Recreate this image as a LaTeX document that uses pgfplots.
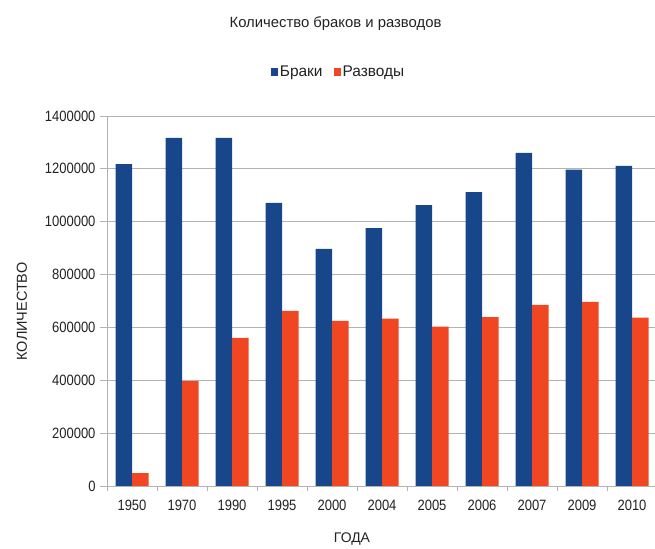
\documentclass[border=0pt]{standalone}
\usepackage{pgfplots}
\pgfplotsset{compat=1.18}
\usepackage{fontspec}
\setmainfont{Liberation Sans}
\newfontfamily\digitfont[FakeStretch=0.87]{Liberation Sans}
\definecolor{bblue}{HTML}{17478A}
\definecolor{bred}{HTML}{F04722}
\definecolor{gridgray}{HTML}{B3B3B3}
\definecolor{txt}{HTML}{222222}
\begin{document}
\begin{tikzpicture}[x=1bp,y=1bp]
\useasboundingbox (0,0) rectangle (655,549);
\begin{axis}[
  at={(107bp,63bp)}, anchor=south west,
  scale only axis, width=550bp, height=370bp,
  xmin=-0.5, xmax=10.5, ymin=0, ymax=1400000,
  ybar=0pt, bar width=16.5bp,
  axis lines*=left,
  axis line style={-, gridgray, line width=0.8bp},
  ymajorgrids, grid style={gridgray, line width=0.8bp},
  ytick={0,200000,400000,600000,800000,1000000,1200000,1400000},
  scaled y ticks=false,
  yticklabel style={/pgf/number format/fixed, /pgf/number format/1000 sep={}, text=txt, xshift=-1bp},
  /pgf/number format/assume math mode=true,
  tick label style={font=\digitfont\fontsize{15}{17}\selectfont},
  xtick={0,...,10},
  xticklabels={1950,1970,1990,1995,2000,2004,2005,2006,2007,2009,2010},
  xticklabel style={text=txt, yshift=-4bp},
  major x tick style={draw=none},
  minor xtick={-0.5,0.5,1.5,2.5,3.5,4.5,5.5,6.5,7.5,8.5,9.5,10.5},
  tick align=outside, major tick length=7bp, minor tick length=5bp,
  tick style={gridgray, line width=0.8bp},
  legend style={at={(0.421,1.119)}, anchor=center, draw=none, fill=none,
    font=\fontsize{15.5}{18}\selectfont, text=txt,
    legend columns=2, /tikz/every even column/.append style={column sep=9bp},
    inner sep=0pt},
  legend image code/.code={\fill[#1] (0bp,-4bp) rectangle (7bp,4bp);},
]
\addplot[fill=bblue, draw=none] coordinates {
(0,1218000) (1,1317000) (2,1317000) (3,1071000) (4,897000) (5,976000)
(6,1063000) (7,1112000) (8,1260000) (9,1197000) (10,1211000)};
\addplot[fill=bred, draw=none] coordinates {
(0,49000) (1,397000) (2,560000) (3,663000) (4,625000) (5,633000)
(6,603000) (7,639000) (8,685000) (9,697000) (10,637000)};
\legend{Браки, Разводы}
\end{axis}
\node[text=txt, font=\fontsize{14.9}{18}\selectfont] at (335.5,525) {Количество браков и разводов};
\node[text=txt, font=\fontsize{14}{16}\selectfont] at (352,9.5) {ГОДА};
\node[text=txt, font=\fontsize{14.5}{16}\selectfont, rotate=90] at (22,237.5) {КОЛИЧЕСТВО};
\end{tikzpicture}
\end{document}
